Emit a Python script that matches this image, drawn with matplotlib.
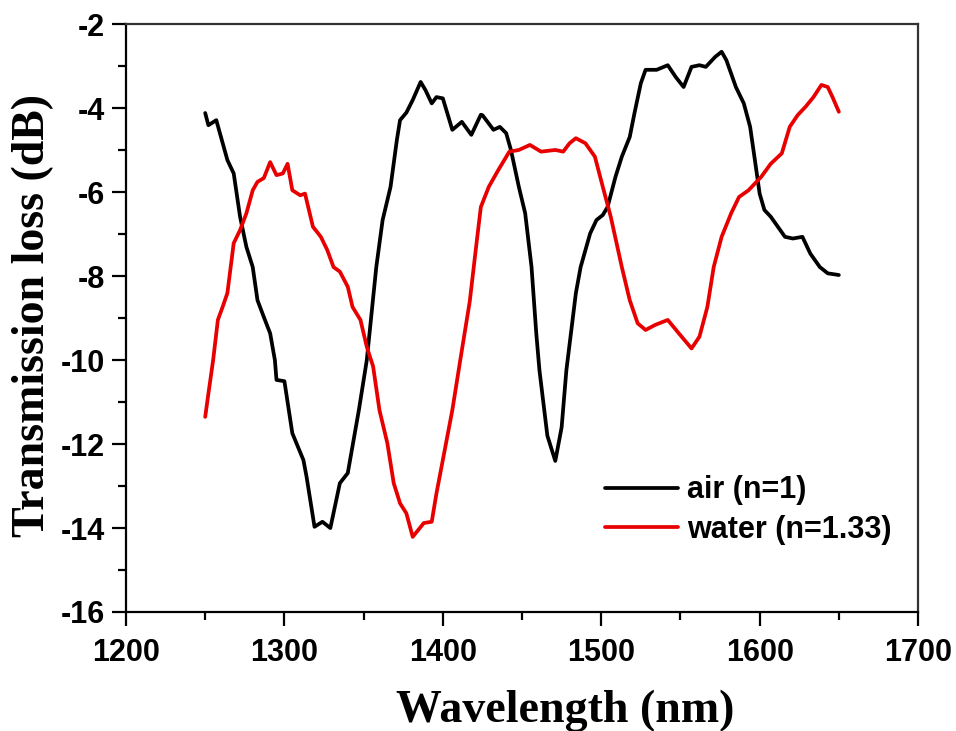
import matplotlib
matplotlib.use("Agg")
import matplotlib.pyplot as plt
from matplotlib.ticker import MultipleLocator

plt.rcParams["axes.unicode_minus"] = False

# air (n=1)
air_nm = [1250, 1252, 1257, 1264, 1268, 1272, 1276, 1280, 1283, 1287, 1291, 1294,
          1295, 1300, 1305, 1312, 1314, 1319, 1324, 1329, 1335, 1340, 1347, 1352,
          1358, 1362, 1367, 1371, 1373, 1377, 1381, 1386, 1389, 1393, 1396, 1400,
          1406, 1412, 1418, 1424, 1425, 1432, 1436, 1440, 1443, 1448, 1452, 1456,
          1459, 1461, 1466, 1471, 1475, 1478, 1484, 1487, 1493, 1497, 1501, 1504,
          1509, 1513, 1518, 1521, 1525, 1528, 1535, 1542, 1547, 1552, 1557, 1562,
          1566, 1572, 1576, 1579, 1585, 1590, 1594, 1597, 1600, 1603, 1607, 1613,
          1616, 1621, 1627, 1632, 1638, 1643, 1650]
air_db = [-4.11, -4.40, -4.28, -5.23, -5.55, -6.58, -7.30, -7.78, -8.57, -8.97, -9.36, -10.0,
          -10.47, -10.50, -11.74, -12.38, -12.78, -13.97, -13.85, -14.00, -12.93, -12.69, -11.19, -10.0,
          -7.78, -6.66, -5.87, -4.75, -4.28, -4.10, -3.80, -3.37, -3.56, -3.88, -3.73, -3.76,
          -4.51, -4.32, -4.63, -4.15, -4.16, -4.51, -4.44, -4.59, -4.99, -5.87, -6.50, -7.78,
          -9.36, -10.24, -11.80, -12.40, -11.60, -10.24, -8.40, -7.78, -6.98, -6.66, -6.54, -6.35,
          -5.63, -5.15, -4.68, -4.11, -3.40, -3.08, -3.08, -2.97, -3.25, -3.49, -3.01, -2.97,
          -3.01, -2.77, -2.65, -2.85, -3.49, -3.88, -4.44, -5.23, -6.03, -6.42, -6.58, -6.90,
          -7.06, -7.10, -7.06, -7.46, -7.78, -7.93, -7.97]

# water (n=1.33)
water_nm = [1250, 1252, 1255, 1258, 1261, 1264, 1268, 1272, 1276, 1280, 1283, 1287,
            1291, 1295, 1299, 1302, 1305, 1310, 1313, 1318, 1323, 1327, 1331, 1335,
            1340, 1343, 1348, 1352, 1356, 1360, 1365, 1369, 1373, 1377, 1381, 1388,
            1393, 1396, 1400, 1406, 1411, 1417, 1421, 1424, 1429, 1435, 1442, 1448,
            1455, 1462, 1471, 1476, 1480, 1484, 1490, 1496, 1501, 1506, 1513, 1518,
            1523, 1528, 1534, 1542, 1549, 1557, 1562, 1567, 1571, 1576, 1582, 1587,
            1593, 1601, 1607, 1614, 1619, 1624, 1629, 1634, 1639, 1643, 1646, 1650]
water_db = [-11.35, -10.80, -10.00, -9.04, -8.73, -8.40, -7.21, -6.90, -6.50, -5.95, -5.75, -5.66,
            -5.28, -5.59, -5.55, -5.32, -5.95, -6.07, -6.03, -6.82, -7.06, -7.37, -7.78, -7.89,
            -8.25, -8.73, -9.04, -9.68, -10.15, -11.19, -11.98, -12.93, -13.41, -13.65, -14.21, -13.88,
            -13.85, -13.17, -12.38, -11.19, -10.0, -8.60, -7.30, -6.35, -5.87, -5.47, -5.03, -4.99,
            -4.87, -5.03, -4.99, -5.03, -4.83, -4.71, -4.83, -5.15, -5.87, -6.58, -7.78, -8.57,
            -9.12, -9.28, -9.16, -9.04, -9.36, -9.72, -9.44, -8.73, -7.78, -7.06, -6.50, -6.11,
            -5.95, -5.63, -5.32, -5.07, -4.44, -4.16, -3.96, -3.73, -3.44, -3.49, -3.73, -4.08]

fig = plt.figure(figsize=(9.56, 7.31), dpi=100)
ax = fig.add_axes([0.1318, 0.1628, 0.8285, 0.8037])

ax.plot(air_nm, air_db, color="black", lw=2.7, label="air (n=1)",
        solid_joinstyle="round", solid_capstyle="round")
ax.plot(water_nm, water_db, color="#e80000", lw=2.7, label="water (n=1.33)",
        solid_joinstyle="round", solid_capstyle="round")

ax.set_xlim(1200, 1700)
ax.set_ylim(-16, -2)
ax.xaxis.set_major_locator(MultipleLocator(100))
ax.xaxis.set_minor_locator(MultipleLocator(50))
ax.yaxis.set_major_locator(MultipleLocator(2))
ax.yaxis.set_minor_locator(MultipleLocator(1))

for s in ax.spines.values():
    s.set_linewidth(1.6)
ax.spines["top"].set_color("#333333")
ax.spines["right"].set_color("#333333")

ax.tick_params(which="both", direction="out", top=False, right=False, width=1.6)
ax.tick_params(which="major", length=10)
ax.tick_params(which="minor", length=6)
ax.tick_params(axis="x", which="major", pad=9)
ax.tick_params(axis="y", which="major", pad=5)
for lab in ax.get_xticklabels() + ax.get_yticklabels():
    lab.set_fontfamily("Liberation Sans")
    lab.set_fontweight("bold")
    lab.set_fontsize(22)

ax.set_xlabel("Wavelength (nm)", family="Liberation Serif", weight="bold", fontsize=33)
ax.set_ylabel("Transmission loss (dB)", family="Liberation Serif", weight="bold", fontsize=33)
ax.xaxis.set_label_coords(0.554, -0.132)
ax.yaxis.set_label_coords(-0.091, 0.505)

leg = ax.legend(loc="lower right", bbox_to_anchor=(1.001, 0.068), frameon=False,
                prop={"family": "Liberation Sans", "weight": "bold", "size": 22},
                handlelength=2.4, handletextpad=0.28, labelspacing=0.3)

fig.savefig("out.png", dpi=100)
